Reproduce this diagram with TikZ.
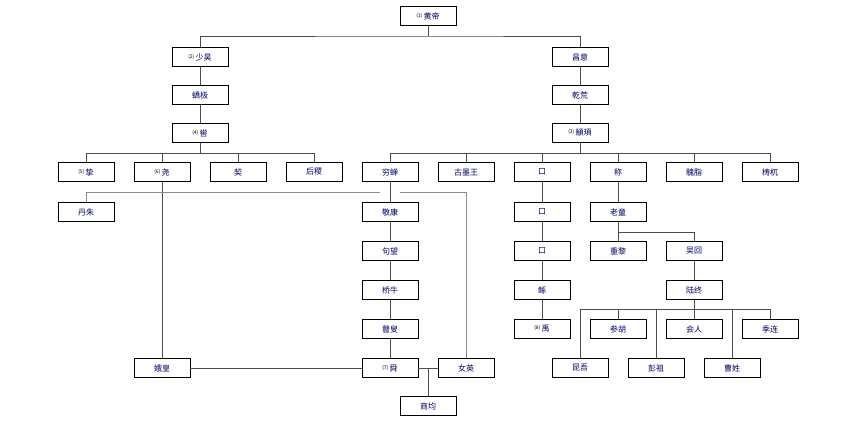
\documentclass[tikz,border=0pt]{standalone}
\usepackage{fontspec}
\setmainfont{Noto Sans CJK SC}
\usetikzlibrary{positioning}
\tikzset{
  person/.style={draw, thick, minimum width=56pt, minimum height=19pt, inner sep=1pt,
    font=\fontsize{8}{8}\selectfont, text=blue!40!black},
  link/.style={draw=black!70},
}
\newcommand{\nr}[1]{\raisebox{2pt}{\fontsize{5}{5}\selectfont\color{black}(#1)}\,}
\begin{document}
\begin{tikzpicture}[x=1pt, y=-1pt]
  \useasboundingbox (0,0) rectangle (847,422);
  % top
  \node[person] (huangdi) at (428,16) {\nr{1}黄帝};
  \node[person] (shaohao) at (200,57) {\nr{2}少昊};
  \node[person] (jiaoji) at (200,95) {蟜极};
  \node[person] (ku) at (200,133) {\nr{4}喾};
  \node[person] (changyi) at (580,57) {昌意};
  \node[person] (qianhuang) at (580,95) {乾荒};
  \node[person] (zhuanxu) at (580,133) {\nr{3}顓頊};
  % sons row
  \node[person] (zhi) at (86,172) {\nr{5}挚};
  \node[person] (yao) at (162,172) {\nr{6}尧};
  \node[person] (qi) at (238,172) {契};
  \node[person] (houji) at (314,172) {后稷};
  \node[person] (qiongchan) at (390,172) {穷蝉};
  \node[person] (guwang) at (466,172) {古墨王};
  \node[person] (xa) at (542,172) {口};
  \node[person] (cheng) at (618,172) {称};
  \node[person] (guizhi) at (694,172) {騩脂};
  \node[person] (taowu) at (770,172) {梼杌};
  % lines of descent
  \node[person] (danzhu) at (86,212) {丹朱};
  \node[person] (jingkang) at (390,212) {敬康};
  \node[person] (juwang) at (390,251) {句望};
  \node[person] (qiaoniu) at (390,290) {桥牛};
  \node[person] (gusou) at (390,329) {瞽叟};
  \node[person] (shun) at (390,368) {\nr{7}舜};
  \node[person] (ehuang) at (162,368) {娥皇};
  \node[person] (nvying) at (466,368) {女英};
  \node[person] (shangjun) at (428,406) {商均};
  \node[person] (xb) at (542,212) {口};
  \node[person] (xc) at (542,251) {口};
  \node[person] (gun) at (542,290) {鲧};
  \node[person] (yu) at (542,329) {\nr{8}禹};
  \node[person] (laotong) at (618,212) {老童};
  \node[person] (chongli) at (618,251) {重黎};
  \node[person] (wuhui) at (694,251) {吴回};
  \node[person] (luzhong) at (694,290) {陆终};
  \node[person] (canhu) at (618,329) {参胡};
  \node[person] (huiren) at (694,329) {会人};
  \node[person] (jilian) at (770,329) {季连};
  \node[person] (kunwu) at (580,368) {昆吾};
  \node[person] (pengzu) at (656,368) {彭祖};
  \node[person] (caoxing) at (732,368) {曹姓};

  \draw[link] (huangdi) -- (428,36) (shaohao) |- (428,36) -| (changyi);
  \draw[link] (shaohao) -- (jiaoji) -- (ku);
  \draw[link] (changyi) -- (qianhuang) -- (zhuanxu);
  \draw[link] (ku) -- (200,153);
  \foreach \n in {zhi,yao,qi,houji} \draw[link] (\n) -- (\n |- 0,153);
  \draw[link] (zhi |- 0,153) -- (houji |- 0,153);
  \draw[link] (zhuanxu) -- (580,153);
  \foreach \n in {qiongchan,guwang,xa,cheng,guizhi,taowu} \draw[link] (\n) -- (\n |- 0,153);
  \draw[link] (qiongchan |- 0,153) -- (taowu |- 0,153);
  % yao's children
  \draw[link] (yao) -- (ehuang);
  \draw[link, black!45] (danzhu) |- (380,192);
  \draw[link, black!45] (400,192) -| (nvying);
  \draw[link] (qiongchan) -- (jingkang) -- (juwang) -- (qiaoniu) -- (gusou) -- (shun);
  \draw[link] (ehuang) -- (shun) -- (nvying);
  \draw[link] (shangjun) -- (428,368);
  \draw[link] (xa) -- (xb) -- (xc) -- (gun) -- (yu);
  \draw[link] (cheng) -- (laotong) -- (chongli);
  \draw[link] (laotong |- 0,232) -| (wuhui);
  \draw[link] (wuhui) -- (luzhong) -- (694,309);
  \draw[link] (kunwu |- 0,309) -- (jilian |- 0,309);
  \foreach \n in {kunwu,canhu,huiren,jilian,pengzu,caoxing} \draw[link] (\n) -- (\n |- 0,309);
\end{tikzpicture}
\end{document}
